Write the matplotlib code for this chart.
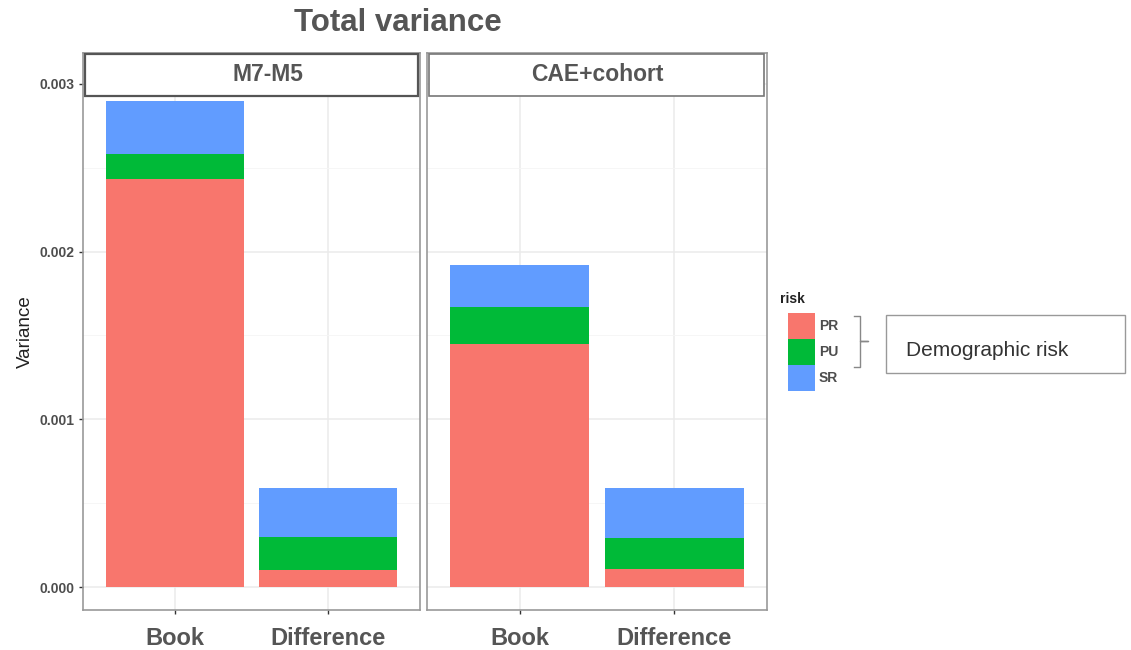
import numpy as np
import matplotlib.pyplot as plt
from matplotlib.patches import Rectangle

plt.rcParams['font.family'] = ['Liberation Sans', 'DejaVu Sans']

panels = ['M7-M5', 'CAE+cohort']
groups = ['Book', 'Difference']
risks = ['PR', 'PU', 'SR']
colors = {'PR': '#F8766D', 'PU': '#00BA38', 'SR': '#619CFF'}

# variance per risk type, [Book, Difference]
m7m5 = {'PR': [0.00243, 0.00010], 'PU': [0.00015, 0.00020], 'SR': [0.00032, 0.00029]}
cae = {'PR': [0.00145, 0.00011], 'PU': [0.00022, 0.00018], 'SR': [0.00025, 0.00030]}
panel_data = [m7m5, cae]

W, H = 1131, 650
fig = plt.figure(figsize=(W / 100, H / 100), dpi=100)
fig.patch.set_facecolor('white')

def box(x0, y0, x1, y1):
    return [x0 / W, 1 - y1 / H, (x1 - x0) / W, (y1 - y0) / H]

txt = '#4d4d4d'
ymin, ymax = -0.000137, 0.003184
axes = [fig.add_axes(box(83, 53, 420, 610)), fig.add_axes(box(427, 53, 767, 610))]
strip_x = [0.55, 0.5]

for i, ax in enumerate(axes):
    data = panel_data[i]
    x = np.arange(len(groups))
    bottom = np.zeros(len(groups))
    for r in risks:
        ax.bar(x, data[r], 0.9, bottom=bottom, color=colors[r], zorder=2, label=r)
        bottom += np.array(data[r])
    ax.set_xlim(-0.6, 1.6)
    ax.set_ylim(ymin, ymax)
    ax.set_yticks([0, 0.001, 0.002, 0.003])
    ax.set_yticks([0.0005, 0.0015, 0.0025], minor=True)
    ax.set_xticks(x)
    ax.set_xticklabels(groups, fontsize=17, fontweight='bold', color='#555555')
    ax.grid(True, which='major', color='#ebebeb', lw=1.1, zorder=0)
    ax.grid(True, which='minor', axis='y', color='#f5f5f5', lw=0.6, zorder=0)
    ax.tick_params(axis='x', length=3, width=1, color='#333333', pad=9)
    ax.tick_params(axis='y', which='minor', length=0)
    for s in ax.spines.values():
        s.set_color('#999999')
        s.set_linewidth(1.2)
    if i == 0:
        ax.set_yticklabels(['0.000', '0.001', '0.002', '0.003'], fontsize=10,
                           fontweight='bold', color=txt)
        ax.tick_params(axis='y', length=3, width=1, color='#333333', pad=3)
        ax.set_ylabel('Variance', fontsize=13.5, color='#222222', labelpad=4)
    else:
        ax.set_yticklabels([])
        ax.tick_params(axis='y', length=0)
    # facet strip
    sh = 43 / 557
    ax.add_patch(Rectangle((0.005, 1 - sh), 0.99 if i == 0 else 0.985, sh - 0.002,
                           transform=ax.transAxes, facecolor='white',
                           edgecolor='#555555' if i == 0 else '#777777',
                           lw=1.6 if i == 0 else 1.2, zorder=5, clip_on=False))
    ax.text(strip_x[i], 1 - sh / 2, panels[i], transform=ax.transAxes, ha='center',
            va='center', fontsize=16.5, fontweight='bold', color='#555555', zorder=6)

fig.text(398 / W, 1 - 23 / H, 'Total variance', ha='center', va='center',
         fontsize=22.5, fontweight='bold', color='#555555')

# legend
fig.text(780 / W, 1 - 299 / H, 'risk', fontsize=10, fontweight='bold',
         color='#222222', va='center')
for k, r in enumerate(risks):
    y0 = 313 + k * 26
    fig.patches.append(Rectangle((788 / W, 1 - (y0 + 26) / H), 27 / W, 26 / H,
                                 transform=fig.transFigure, facecolor=colors[r],
                                 edgecolor='none'))
    fig.text(819 / W, 1 - (y0 + 13) / H, r, fontsize=10, fontweight='bold',
             color=txt, va='center')

# bracket and annotation box
bx = [854, 860, 860, 868, 860, 860, 854]
by = [316, 316, 341, 341, 341, 367, 367]
fig.add_artist(plt.Line2D([v / W for v in bx], [1 - v / H for v in by],
                          transform=fig.transFigure, color='#888888', lw=1))
fig.patches.append(Rectangle((886 / W, 1 - 373 / H), 239 / W, 58 / H,
                             transform=fig.transFigure, facecolor='white',
                             edgecolor='#999999', lw=1))
fig.text(906 / W, 1 - 351 / H, 'Demographic risk', fontsize=15,
         color='#333333', va='center')

fig.savefig('out.png', dpi=100)
